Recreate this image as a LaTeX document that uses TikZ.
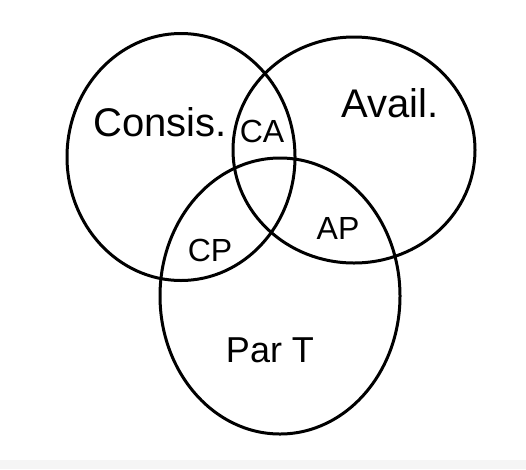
\documentclass[tikz,border=0pt]{standalone}
\usepackage{fontspec}
\setmainfont{Liberation Sans}
\usetikzlibrary{shapes.geometric}
\tikzset{
	set/.style={draw=black,line width=3pt,ellipse,inner sep=0pt},
	lbl/.style={font=\fontsize{40}{40}\selectfont},
	cut/.style={font=\fontsize{32}{32}\selectfont}
}
\begin{document}
\begin{tikzpicture}[x=1pt,y=-1pt]
	\useasboundingbox (0,0) rectangle (526,469);
	\fill[black!4] (0,460) rectangle (526,469);
	% the three sets
	\node[set,minimum width=228pt,minimum height=247pt] (cons) at (181,157) {};
	\node[set,minimum width=242pt,minimum height=226pt] (avail) at (354,150) {};
	\node[set,minimum width=240pt,minimum height=276pt] (part) at (280,296) {};
	% names
	\node[lbl] (consname) at (160,122) {Consis.};
	\node[lbl] (availname) at (390,103) {Avail.};
	\node[lbl,font=\fontsize{36}{36}\selectfont] (partname) at (270,350) {Par T};
	% overlaps
	\node[cut] (ca) at (262,131) {CA};
	\node[cut] (cp) at (210,250) {CP};
	\node[cut] (ap) at (338,228) {AP};
\end{tikzpicture}
\end{document}
